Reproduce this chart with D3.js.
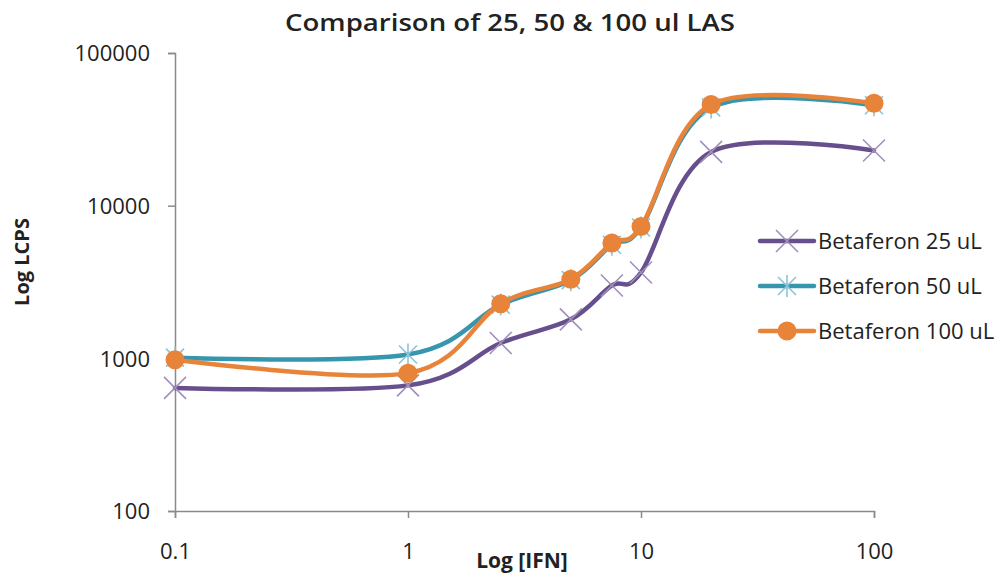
<!DOCTYPE html>
<html>
<head>
<meta charset="utf-8">
<script src="https://cdn.jsdelivr.net/npm/d3@7"></script>
<style>
  body { margin: 0; background: #fff; }
  text { font-family: "Open Sans", "Noto Sans", sans-serif; fill: #222; }
</style>
</head>
<body>
<div id="chart"></div>
<script>
// x values (IFN) shared by all series
const doses = [0.1, 1, 2.5, 5, 7.5, 10, 20, 100];
const seriesNames = ["Betaferon 25 uL", "Betaferon 50 uL", "Betaferon 100 uL"];
const lcps25 = [640, 665, 1260, 1800, 3000, 3650, 22500, 23000];
const lcps50 = [1010, 1060, 2250, 3250, 5550, 7200, 44000, 45500];
const lcps100 = [980, 800, 2280, 3300, 5700, 7300, 46000, 46800];
const xTicks = [0.1, 1, 10, 100];
const yTicks = [100, 1000, 10000, 100000];

const W = 1006, H = 579;
const margin = {left: 175, right: 132, top: 53, bottom: 68};

const svg = d3.select("#chart").append("svg")
    .attr("width", W)
    .attr("height", H);

const x = d3.scaleLog().domain([0.1, 100]).range([margin.left, W - margin.right]);
const y = d3.scaleLog().domain([100, 100000]).range([H - margin.bottom, margin.top]);

// axes
const xAxis = svg.append("g")
    .attr("transform", `translate(0,${H - margin.bottom})`)
    .call(d3.axisBottom(x).tickValues(xTicks).tickFormat(d => d).tickSize(7).tickPadding(25));
const yAxis = svg.append("g")
    .attr("transform", `translate(${margin.left},0)`)
    .call(d3.axisLeft(y).tickValues(yTicks).tickFormat(d => d).tickSize(7).tickPadding(18));

[xAxis, yAxis].forEach(g => {
    g.select(".domain").attr("stroke", "#8a8a8a").attr("stroke-width", 1.5);
    g.selectAll(".tick line").attr("stroke", "#8a8a8a").attr("stroke-width", 1.5);
    g.selectAll(".tick text").style("font-size", "22px").attr("fill", "#222");
});
yAxis.selectAll(".tick text").attr("dy", "0.36em");

// titles
svg.append("text")
    .attr("x", 510).attr("y", 31)
    .attr("text-anchor", "middle")
    .attr("textLength", 450).attr("lengthAdjust", "spacingAndGlyphs")
    .style("font-size", "23px").style("font-weight", "600")
    .text("Comparison of 25, 50 & 100 ul LAS");

svg.append("text")
    .attr("x", 522).attr("y", 568)
    .attr("text-anchor", "middle")
    .style("font-size", "21px").style("font-weight", "bold")
    .text("Log [IFN]");

svg.append("text")
    .attr("transform", "translate(29,262) rotate(-90)")
    .attr("text-anchor", "middle")
    .style("font-size", "20px").style("font-weight", "bold")
    .text("Log LCPS");

const series = [
    {name: seriesNames[0], values: lcps25, color: "#664f8c", mark: "x", markColor: "#a090bb"},
    {name: seriesNames[1], values: lcps50, color: "#3596ad", mark: "star", markColor: "#8cc3d6"},
    {name: seriesNames[2], values: lcps100, color: "#e8843a", mark: "dot", markColor: "#e8843a"}
];

const line = d3.line()
    .x(d => x(d[0]))
    .y(d => y(d[1]))
    .curve(d3.curveCardinal.tension(0));

function drawMarker(g, cx, cy, s) {
    if (s.mark === "x") {
        g.append("path")
            .attr("d", `M${cx-11},${cy-11}L${cx+11},${cy+11}M${cx-11},${cy+11}L${cx+11},${cy-11}`)
            .attr("stroke", s.markColor).attr("stroke-width", 1.6);
    } else if (s.mark === "star") {
        g.append("path")
            .attr("d", `M${cx-9},${cy-9}L${cx+9},${cy+9}M${cx-9},${cy+9}L${cx+9},${cy-9}M${cx},${cy-11}L${cx},${cy+11}`)
            .attr("stroke", s.markColor).attr("stroke-width", 1.6);
    } else {
        g.append("circle")
            .attr("cx", cx).attr("cy", cy).attr("r", 9.5)
            .attr("fill", s.markColor);
    }
}

series.forEach(s => {
    const pts = doses.map((d, i) => [d, s.values[i]]);
    const g = svg.append("g");
    g.append("path")
        .datum(pts)
        .attr("fill", "none")
        .attr("stroke", s.color)
        .attr("stroke-width", 4.5)
        .attr("stroke-linecap", "round")
        .attr("d", line);
    pts.forEach(p => drawMarker(g, x(p[0]), y(p[1]), s));
});

// legend
const legend = svg.append("g").attr("transform", "translate(760,241)");
series.forEach((s, i) => {
    const g = legend.append("g").attr("transform", `translate(0,${i * 45})`);
    g.append("line")
        .attr("x1", 0).attr("x2", 54).attr("y1", 0).attr("y2", 0)
        .attr("stroke", s.color).attr("stroke-width", 4.5)
        .attr("stroke-linecap", "round");
    drawMarker(g, 27, 0, s);
    g.append("text")
        .attr("x", 58).attr("y", 8)
        .style("font-size", "22px")
        .text(s.name);
});
</script>
</body>
</html>
